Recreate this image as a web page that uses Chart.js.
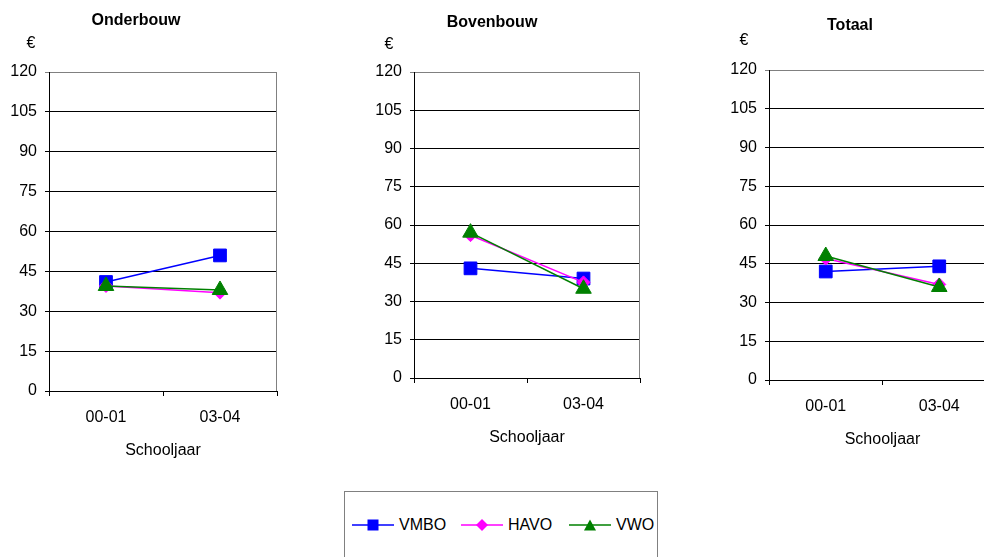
<!DOCTYPE html>
<html>
<head>
<meta charset="utf-8">
<script src="https://cdn.jsdelivr.net/npm/chart.js@4.4.1/dist/chart.umd.min.js"></script>
<style>
  body { margin: 0; width: 984px; height: 557px; overflow: hidden; background: #fff; position: relative;
         font-family: 'Liberation Sans', Arial, sans-serif; }
  canvas { position: absolute; top: 0; }
  #legend { position: absolute; left: 344px; top: 491px; width: 314px; height: 80px;
            border: 1px solid #808080; box-sizing: border-box; }
  .item { position: absolute; top: 24px; height: 18px; display: flex; align-items: center;
          font-size: 16px; color: #000; }
  .item svg { margin-right: 5px; }
</style>
</head>
<body>
<canvas id="onderbouw" width="290" height="460" style="left:0px"></canvas>
<canvas id="bovenbouw" width="320" height="447" style="left:340px"></canvas>
<canvas id="totaal" width="320" height="449" style="left:690px"></canvas>

<div id="legend">
  <div class="item" style="left:7px">
    <svg width="42" height="18"><line x1="0" y1="9" x2="42" y2="9" stroke="#0000ff" stroke-width="1.5"/><rect x="15.5" y="3.5" width="11" height="11" fill="#0000ff"/></svg>VMBO
  </div>
  <div class="item" style="left:116px">
    <svg width="42" height="18"><line x1="0" y1="9" x2="42" y2="9" stroke="#ff00ff" stroke-width="1.5"/><polygon points="21,3 27,9 21,15 15,9" fill="#ff00ff"/></svg>HAVO
  </div>
  <div class="item" style="left:224px">
    <svg width="42" height="18"><line x1="0" y1="9" x2="42" y2="9" stroke="#008000" stroke-width="1.5"/><polygon points="21,3.5 27,14.5 15,14.5" fill="#008000"/></svg>VWO
  </div>
</div>

<script>
// Schooljaren en bedragen (euro) per type onderwijs
const schooljaren = ['00-01', '03-04'];

const onderbouwVmbo = [41, 51];
const onderbouwHavo = [39.5, 37];
const onderbouwVwo = [39.5, 38];

const bovenbouwVmbo = [43, 39];
const bovenbouwHavo = [56, 37.5];
const bovenbouwVwo = [57, 35];

const totaalVmbo = [42, 44];
const totaalHavo = [47, 37];
const totaalVwo = [48, 36];

const yMin = 0, yMax = 120, yStap = 15;

Chart.defaults.font.family = "'Liberation Sans', Arial, sans-serif";
Chart.defaults.font.size = 16;
Chart.defaults.color = '#000';

// titel + euroteken boven de grafiek
const headerPlugin = {
    id: 'header',
    afterDraw(chart, args, opts) {
        const ctx = chart.ctx;
        ctx.save();
        ctx.fillStyle = '#000';
        ctx.textAlign = 'center';
        ctx.textBaseline = 'middle';
        ctx.font = "bold 16px 'Liberation Sans', Arial, sans-serif";
        ctx.fillText(opts.text, opts.titleX, opts.titleY);
        ctx.font = "16px 'Liberation Sans', Arial, sans-serif";
        ctx.fillText('€', opts.euroX, opts.euroY);
        ctx.restore();
    }
};

// grijze rechterrand van het plotgebied
const borderPlugin = {
    id: 'plotBorder',
    beforeDatasetsDraw(chart) {
        const a = chart.chartArea, ctx = chart.ctx;
        ctx.save();
        ctx.strokeStyle = '#808080';
        ctx.lineWidth = 1;
        ctx.beginPath();
        ctx.moveTo(Math.round(a.right) - 0.5, a.top);
        ctx.lineTo(Math.round(a.right) - 0.5, a.bottom);
        ctx.stroke();
        ctx.restore();
    }
};

function makeChart(id, vmbo, havo, vwo, cfg) {
    return new Chart(document.getElementById(id), {
        type: 'line',
        data: {
            labels: schooljaren,
            datasets: [
                { label: 'VMBO', data: vmbo, borderColor: '#0000ff', backgroundColor: '#0000ff',
                  pointStyle: 'rect', pointRadius: 9, pointBorderWidth: 1, borderWidth: 1.5, order: 3 },
                { label: 'HAVO', data: havo, borderColor: '#ff00ff', backgroundColor: '#ff00ff',
                  pointStyle: 'rectRot', pointRadius: 6.5, pointBorderWidth: 1, borderWidth: 1.5, order: 2 },
                { label: 'VWO', data: vwo, borderColor: '#008000', backgroundColor: '#008000',
                  pointStyle: 'triangle', pointRadius: 9, pointBorderWidth: 1, borderWidth: 1.5, order: 1 }
            ]
        },
        options: {
            responsive: false,
            animation: false,
            layout: { padding: { top: cfg.top, right: cfg.right, left: 0, bottom: 0 } },
            plugins: {
                legend: { display: false },
                tooltip: { enabled: false },
                header: cfg.header
            },
            scales: {
                x: {
                    offset: true,
                    grid: { offset: true, drawOnChartArea: false, tickLength: 5, color: '#000' },
                    border: { color: '#000' },
                    ticks: { padding: 12, color: '#000' },
                    title: { display: true, text: 'Schooljaar', color: '#000', padding: 0 },
                    afterFit(s) { s.height = 69; }
                },
                y: {
                    min: yMin,
                    max: yMax,
                    ticks: { stepSize: yStap, padding: 8, color: '#000' },
                    grid: { tickLength: 4, color: c => (c.tick && c.tick.value === yMax) ? '#808080' : '#000' },
                    border: { color: '#000' },
                    afterFit(s) { s.width = cfg.yWidth; }
                }
            }
        },
        plugins: [headerPlugin, borderPlugin]
    });
}

makeChart('onderbouw', onderbouwVmbo, onderbouwHavo, onderbouwVwo, {
    top: 72, right: 13, yWidth: 49,
    header: { text: 'Onderbouw', titleX: 136, titleY: 21, euroX: 31, euroY: 44 }
});
makeChart('bovenbouw', bovenbouwVmbo, bovenbouwHavo, bovenbouwVwo, {
    top: 72, right: 20, yWidth: 74,
    header: { text: 'Bovenbouw', titleX: 152, titleY: 23, euroX: 49, euroY: 45 }
});
makeChart('totaal', totaalVmbo, totaalHavo, totaalVwo, {
    top: 70, right: 14, yWidth: 79,
    header: { text: 'Totaal', titleX: 160, titleY: 26, euroX: 54, euroY: 41 }
});
</script>
</body>
</html>
